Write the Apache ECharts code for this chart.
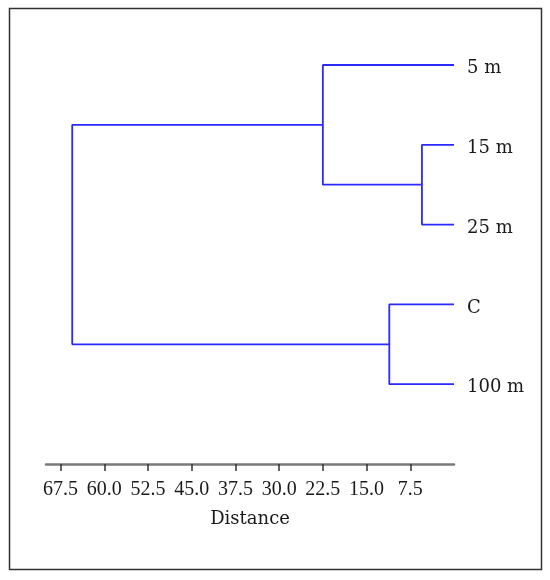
<!DOCTYPE html>
<html>
<head>
<meta charset="utf-8">
<script src="https://cdn.jsdelivr.net/npm/echarts@6/dist/echarts.min.js"></script>
<style>html,body{margin:0;padding:0;background:#fff}#c{width:550px;height:580px}</style>
</head>
<body>
<div id="c"></div>
<script>
// Leaves, top to bottom
const leaves = ['5 m', '15 m', '25 m', 'C', '100 m'];
// Merges: child indices (0..4 leaves, 5+ earlier merges) and merge distance
const mergeA = [1, 0, 3, 6];
const mergeB = [2, 5, 4, 7];
const mergeHeight = [5.5, 22.5, 11.1, 65.5];
// Axis tick labels
const tickValues = [67.5, 60.0, 52.5, 45.0, 37.5, 30.0, 22.5, 15.0, 7.5];

const FONT = 'DejaVu Serif';
const TICKFONT = 'Liberation Serif';
const nodeX = leaves.map(() => 0);
const nodeY = leaves.map((_, i) => i + 1);
const segs = [];
for (let k = 0; k < mergeHeight.length; k++) {
  const a = mergeA[k], b = mergeB[k], h = mergeHeight[k];
  segs.push([[nodeX[a], nodeY[a]], [h, nodeY[a]], [h, nodeY[b]], [nodeX[b], nodeY[b]]]);
  nodeX.push(h);
  nodeY.push((nodeY[a] + nodeY[b]) / 2);
}

const series = segs.map(s => ({
  type: 'line', data: s, symbol: 'none', silent: true,
  lineStyle: { color: '#2a2aff', width: 1.8 }
}));

const chart = echarts.init(document.getElementById('c'), null, { renderer: 'canvas' });
chart.setOption({
  animation: false,
  backgroundColor: '#fff',
  graphic: [{ type: 'rect', shape: { x: 9.5, y: 8.5, width: 532, height: 561 },
    style: { fill: 'none', stroke: '#333', lineWidth: 1.5 } }],
  grid: { left: 46, top: 65, width: 408, height: 399, containLabel: false },
  xAxis: {
    type: 'value', inverse: true, min: 0, max: 70,
    name: 'Distance', nameLocation: 'middle', nameGap: 46,
    nameTextStyle: { fontFamily: FONT, fontSize: 18, color: '#1a1a1a' },
    axisLine: { show: true, lineStyle: { color: '#7a7a7a', width: 2.5 } },
    axisTick: { show: true, customValues: tickValues, length: 7, lineStyle: { color: '#333', width: 1.5 } },
    axisLabel: { customValues: tickValues, fontFamily: TICKFONT, fontSize: 20, color: '#1a1a1a', margin: 16,
      formatter: v => v.toFixed(1) },
    splitLine: { show: false }
  },
  yAxis: {
    type: 'value', inverse: true, min: 1, max: 6, position: 'right',
    axisLine: { show: false }, axisTick: { show: false }, splitLine: { show: false },
    axisLabel: { customValues: [1, 2, 3, 4, 5], margin: 13, align: 'left',
      formatter: v => '{a|' + leaves[Math.round(v) - 1] + '}',
      rich: { a: { fontFamily: FONT, fontSize: 18, color: '#1a1a1a', padding: [7, 0, 0, 0] } } }
  },
  series: series
});
</script>
</body>
</html>
